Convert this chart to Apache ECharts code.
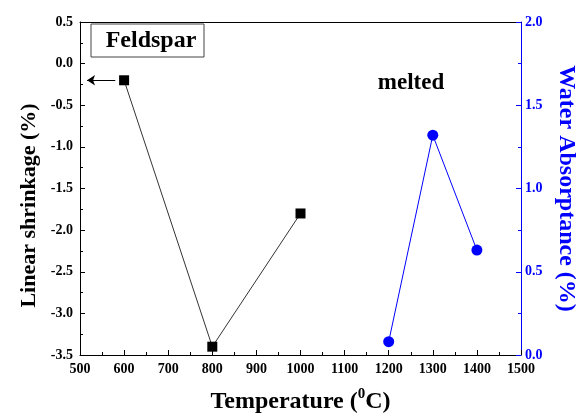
<!DOCTYPE html>
<html><head><meta charset="utf-8">
<script src="https://cdn.jsdelivr.net/npm/echarts@6/dist/echarts.min.js"></script>
<style>html,body{margin:0;padding:0;background:#fff}#c{width:583px;height:418px}</style>
</head><body><div id="c"></div>
<script>
const shrinkTemps = [600, 800, 1000];
const shrinkValues = [-0.2, -3.4, -1.8];
const waterTemps = [1200, 1300, 1400];
const waterValues = [0.08, 1.32, 0.63];
const sampleLabel = 'Feldspar';
const noteLabel = 'melted';
const F = 'Liberation Serif, Times New Roman, serif';

const chart = echarts.init(document.getElementById('c'));
chart.setOption({
  animation: false,
  grid: {left: 80, right: 62, top: 22, bottom: 63, containLabel: false, outerBoundsMode: 'none'},
  xAxis: [{
    type: 'value', min: 500, max: 1500, interval: 100, position: 'bottom',
    axisLine: {show: true, onZero: false, lineStyle: {color: '#000', width: 1}},
    axisTick: {inside: true, length: 5, lineStyle: {color: '#000'}},
    minorTick: {show: true, splitNumber: 2, length: 3, lineStyle: {color: '#000'}},
    splitLine: {show: false},
    axisLabel: {color: '#000', fontFamily: F, fontWeight: 'bold', fontSize: 14, margin: 7,
      formatter: v => String(v)},
    name: '{a|Temperature (}{s|0}{a|C)}', nameLocation: 'middle', nameGap: 32,
    nameTextStyle: {rich: {
      a: {fontFamily: F, fontWeight: 'bold', fontSize: 24, color: '#000'},
      s: {fontFamily: F, fontWeight: 'bold', fontSize: 15, color: '#000', verticalAlign: 'top', padding: [0,0,14,0]}
    }}
  }, {
    type: 'value', min: 500, max: 1500, position: 'top',
    axisLine: {show: true, onZero: false, lineStyle: {color: '#000'}},
    axisTick: {show: false}, axisLabel: {show: false}, splitLine: {show: false}
  }],
  yAxis: [{
    type: 'value', min: -3.5, max: 0.5, interval: 0.5, position: 'left',
    axisLine: {show: true, onZero: false, lineStyle: {color: '#000'}},
    axisTick: {show: true, inside: true, length: 5, lineStyle: {color: '#000'}},
    minorTick: {show: true, splitNumber: 2, length: 3, lineStyle: {color: '#000'}},
    splitLine: {show: false},
    axisLabel: {color: '#000', fontFamily: F, fontWeight: 'bold', fontSize: 14, margin: 7,
      formatter: v => v.toFixed(1)},
    name: 'Linear shrinkage (%)', nameLocation: 'middle', nameGap: 38,
    nameTextStyle: {fontFamily: F, fontWeight: 'bold', fontSize: 22, color: '#000', padding: [0, 34, 0, 0]}
  }, {
    type: 'value', min: 0, max: 2.0, interval: 0.5, position: 'right',
    axisLine: {show: true, onZero: false, lineStyle: {color: '#0000ff'}},
    axisTick: {show: true, inside: true, length: 5, lineStyle: {color: '#0000ff'}},
    minorTick: {show: true, splitNumber: 2, length: 3, lineStyle: {color: '#0000ff'}},
    splitLine: {show: false},
    axisLabel: {color: '#0000ff', fontFamily: F, fontWeight: 'bold', fontSize: 14, margin: 4,
      formatter: v => v.toFixed(1)},
    name: 'Water Absorptance (%)', nameLocation: 'middle', nameGap: 33, nameRotate: -90,
    nameTextStyle: {fontFamily: F, fontWeight: 'bold', fontSize: 24, color: '#0000ff'}
  }],
  series: [{
    type: 'line', xAxisIndex: 0, yAxisIndex: 0,
    data: shrinkTemps.map((t, i) => [t, shrinkValues[i]]),
    symbol: 'rect', symbolSize: 10,
    lineStyle: {color: '#333', width: 1}, itemStyle: {color: '#000'},
    markLine: {
      silent: true, symbolSize: 8,
      lineStyle: {color: '#000', width: 1, type: 'solid'},
      label: {show: false},
      data: [[{coord: [580, shrinkValues[0]], symbol: 'none'}, {coord: [516, shrinkValues[0]], symbol: 'arrow'}]]
    }
  }, {
    type: 'line', xAxisIndex: 0, yAxisIndex: 1,
    data: waterTemps.map((t, i) => [t, waterValues[i]]),
    symbol: 'circle', symbolSize: 11,
    lineStyle: {color: '#0000ff', width: 1}, itemStyle: {color: '#0000ff'}
  }],
  graphic: [{
    type: 'rect', shape: {x: 91, y: 24, width: 113, height: 33},
    style: {fill: '#fff', stroke: '#444', lineWidth: 1}
  }, {
    type: 'text', x: 151, y: 41,
    style: {text: sampleLabel, fontFamily: F, fontWeight: 'bold', fontSize: 24, fill: '#000',
      textAlign: 'center', textVerticalAlign: 'middle'}
  }, {
    type: 'text', x: 411, y: 83,
    style: {text: noteLabel, fontFamily: F, fontWeight: 'bold', fontSize: 23, fill: '#000',
      textAlign: 'center', textVerticalAlign: 'middle'}
  }]
});
</script></body></html>
